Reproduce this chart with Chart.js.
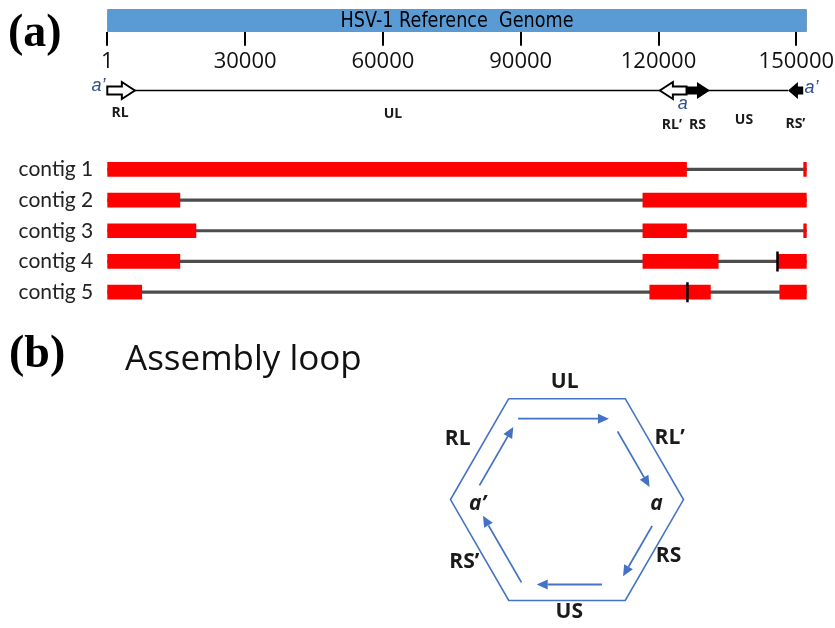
<!DOCTYPE html>
<html>
<head>
<meta charset="utf-8">
<title>HSV-1 contig assembly</title>
<script src="https://cdn.jsdelivr.net/npm/chart.js@4.4.1/dist/chart.umd.min.js"></script>
<style>
  body { margin: 0; background: #fff; }
  #wrap { position: relative; width: 835px; height: 628px; overflow: hidden; }
  canvas { position: absolute; left: 0; }
</style>
</head>
<body>
<div id="wrap">
  <canvas id="refChart" width="835" height="140" style="top:0"></canvas>
  <canvas id="contigChart" width="835" height="180" style="top:140px"></canvas>
  <canvas id="loopChart" width="835" height="308" style="top:320px"></canvas>
</div>
<script>
// genome coordinates (bp)
const genomeLength = 152261;
const axisTicks = [1, 30000, 60000, 90000, 120000, 150000];

// genome map: repeat regions drawn as arrows
const featureStart = [1, 120300, 126100, 148200];
const featureEnd = [6000, 126100, 131200, 151500];
const featureDir = [1, -1, 1, -1];
const featureFilled = [false, false, true, true];

const regionNames = ['RL', 'UL', 'RL’', 'RS', 'US', 'RS’'];
const regionCenters = [2800, 62200, 122900, 128500, 138600, 149800];
const junctionNames = ['a’', 'a', 'a’'];
const junctionCenters = [-1900, 125300, 153300];

// contigs: red segments that map to the reference
const contigNames = ['contig 1', 'contig 2', 'contig 3', 'contig 4', 'contig 5'];
const contigSegments = [
  [[1, 126100], [151600, 152261]],
  [[1, 15800], [116600, 152261]],
  [[1, 19300], [116600, 126100], [151600, 152261]],
  [[1, 15800], [116600, 133000], [146000, 152261]],
  [[1, 7500], [118100, 131300], [146400, 152261]]
];
const contigBreaks = [null, null, null, 145900, 126300];

// assembly loop
const loopEdges = ['UL', 'RL’', 'RS', 'US', 'RS’', 'RL'];
const loopJunctions = ['a', 'a’'];

// layout bits (pixels)
const MAP_Y = 90.5;
const regionLabelY = [113, 114, 125, 125, 120, 124];
const junctionLabelY = [86, 104, 88];
const HEX_R = 116.5;
const edgeInset = [20, 23, 14, 16, 20, 18];
const arrowFrom = [0.08, 0.21, 0.33, 0.2, 0.08, 0.23];
const arrowTo = [0.86, 0.76, 0.83, 0.76, 0.74, 0.81];
const labelOffset = [17, 19, 15, 12, 19, 24];
const loopBlue = '#4472C4';

function blockArrow(ctx, xa, xb, y, dir, filled) {
  const tip = dir > 0 ? Math.max(xa, xb) : Math.min(xa, xb);
  const tail = dir > 0 ? Math.min(xa, xb) : Math.max(xa, xb);
  const head = Math.min(13, Math.abs(tip - tail) * 0.65) * dir;
  ctx.beginPath();
  ctx.moveTo(tail, y - 4);
  ctx.lineTo(tip - head, y - 4);
  ctx.lineTo(tip - head, y - 8.5);
  ctx.lineTo(tip, y);
  ctx.lineTo(tip - head, y + 8.5);
  ctx.lineTo(tip - head, y + 4);
  ctx.lineTo(tail, y + 4);
  ctx.closePath();
  if (filled) {
    ctx.fillStyle = '#000';
    ctx.fill();
  } else {
    ctx.fillStyle = '#fff';
    ctx.fill();
    ctx.lineWidth = 2;
    ctx.strokeStyle = '#000';
    ctx.stroke();
  }
}

const genomeMap = {
  id: 'genomeMap',
  afterDraw(chart) {
    const ctx = chart.ctx;
    const area = chart.chartArea;
    const px = v => chart.scales.x.getPixelForValue(v);
    ctx.save();

    // title squeezed into the reference bar
    ctx.fillStyle = '#000';
    ctx.font = '21px "DejaVu Sans"';
    ctx.textAlign = 'center';
    ctx.textBaseline = 'middle';
    ctx.fillText('HSV-1 Reference  Genome', (area.left + area.right) / 2, (area.top + area.bottom) / 2 + 1, 233);

    ctx.font = 'bold 46px "Liberation Serif"';
    ctx.textAlign = 'left';
    ctx.textBaseline = 'alphabetic';
    ctx.fillText('(a)', 8, 46);

    // backbone line between the terminal repeats
    ctx.strokeStyle = '#000';
    ctx.lineWidth = 1.5;
    ctx.beginPath();
    ctx.moveTo(px(featureEnd[0]), MAP_Y);
    ctx.lineTo(px(featureStart[3]), MAP_Y);
    ctx.stroke();
    for (let i = 0; i < featureStart.length; i++) {
      blockArrow(ctx, px(featureStart[i]), px(featureEnd[i]), MAP_Y, featureDir[i], featureFilled[i]);
    }

    ctx.textAlign = 'center';
    ctx.textBaseline = 'middle';
    ctx.fillStyle = '#1a1a1a';
    ctx.font = 'bold 14px "Open Sans"';
    regionNames.forEach((name, i) => ctx.fillText(name, px(regionCenters[i]), regionLabelY[i]));

    ctx.fillStyle = '#2E4E8C';
    ctx.font = 'italic 18px "Liberation Sans"';
    junctionNames.forEach((name, i) => ctx.fillText(name, px(junctionCenters[i]), junctionLabelY[i]));
    ctx.restore();
  }
};

new Chart(document.getElementById('refChart'), {
  type: 'bar',
  data: {
    labels: ['reference'],
    datasets: [{
      label: 'HSV-1 Reference Genome',
      data: [[1, genomeLength]],
      backgroundColor: '#5B9BD5',
      borderColor: '#41719C',
      borderWidth: 1,
      borderSkipped: false,
      barPercentage: 1,
      categoryPercentage: 1
    }]
  },
  options: {
    indexAxis: 'y',
    responsive: false,
    animation: false,
    layout: { padding: { left: 107.3, right: 28.3, top: 9.3, bottom: 63.3 } },
    plugins: { legend: { display: false }, tooltip: { enabled: false } },
    scales: {
      y: { display: false },
      x: {
        type: 'linear',
        min: 1,
        max: genomeLength,
        position: 'bottom',
        border: { display: false },
        grid: { drawOnChartArea: false, drawTicks: true, tickLength: 14, color: '#000', lineWidth: 2 },
        ticks: {
          autoSkip: false,
          maxRotation: 0,
          padding: 3,
          color: '#111',
          font: { family: 'Open Sans', size: 22 },
          callback: v => String(v)
        },
        afterBuildTicks: s => { s.ticks = axisTicks.map(v => ({ value: v })); },
        afterFit: s => {
          s.height = 45;
          s.paddingLeft = 0;
          s.paddingRight = 0;
        }
      }
    }
  },
  plugins: [genomeMap]
});

// contig panel
const segmentCount = Math.max(...contigSegments.map(s => s.length));
const segmentSets = [];
for (let k = 0; k < segmentCount; k++) {
  segmentSets.push({
    label: 'segment ' + (k + 1),
    data: contigSegments.map(s => s[k] || null),
    backgroundColor: '#FF0000',
    barThickness: 14,
    grouped: false,
    order: 1
  });
}

new Chart(document.getElementById('contigChart'), {
  type: 'bar',
  data: {
    labels: contigNames,
    datasets: [
      {
        type: 'scatter',
        label: 'break',
        data: contigBreaks.map((b, i) => b === null ? null : { x: b, y: contigNames[i] }).filter(Boolean),
        pointStyle: 'line',
        rotation: 90,
        radius: 10,
        borderColor: '#000',
        borderWidth: 2.5,
        order: 0
      },
      ...segmentSets,
      {
        label: 'genome',
        data: contigNames.map(() => [1, genomeLength]),
        backgroundColor: '#4d4d4d',
        barThickness: 2.5,
        grouped: false,
        order: 2
      }
    ]
  },
  options: {
    indexAxis: 'y',
    responsive: false,
    animation: false,
    layout: { padding: { left: 0, right: 28.3, top: 14, bottom: 0 } },
    plugins: { legend: { display: false }, tooltip: { enabled: false } },
    scales: {
      x: { type: 'linear', min: 1, max: genomeLength, display: false },
      y: {
        grid: { display: false, drawTicks: false },
        border: { display: false },
        ticks: { padding: 14, color: '#222', font: { family: 'Lato', size: 21 } },
        afterFit: s => {
          s.width = 107.3;
          s.paddingTop = 0;
          s.paddingBottom = 0;
        }
      }
    }
  }
});

// assembly loop panel
const loopVertices = [];
for (let k = 0; k <= loopEdges.length; k++) {
  const ang = (120 - 60 * k) * Math.PI / 180;
  loopVertices.push({ x: HEX_R * Math.cos(ang), y: HEX_R * Math.sin(ang) });
}

function arrowLine(ctx, x1, y1, x2, y2) {
  const a = Math.atan2(y2 - y1, x2 - x1);
  const hl = 11, hw = 5;
  const bx = x2 - hl * Math.cos(a), by = y2 - hl * Math.sin(a);
  ctx.beginPath();
  ctx.moveTo(x1, y1);
  ctx.lineTo(bx, by);
  ctx.stroke();
  ctx.beginPath();
  ctx.moveTo(x2, y2);
  ctx.lineTo(bx + hw * Math.sin(a), by - hw * Math.cos(a));
  ctx.lineTo(bx - hw * Math.sin(a), by + hw * Math.cos(a));
  ctx.closePath();
  ctx.fill();
}

const loopDecor = {
  id: 'loopDecor',
  afterDraw(chart) {
    const ctx = chart.ctx;
    const xs = chart.scales.x, ys = chart.scales.y;
    const P = loopVertices.map(v => ({ x: xs.getPixelForValue(v.x), y: ys.getPixelForValue(v.y) }));
    const C = { x: xs.getPixelForValue(0), y: ys.getPixelForValue(0) };
    ctx.save();

    ctx.fillStyle = '#000';
    ctx.font = 'bold 46px "Liberation Serif"';
    ctx.textAlign = 'left';
    ctx.textBaseline = 'alphabetic';
    ctx.fillText('(b)', 9, 47);
    ctx.fillStyle = '#111';
    ctx.font = '35px "Open Sans"';
    ctx.fillText('Assembly loop', 125, 49.5);

    ctx.lineWidth = 1.8;
    ctx.textAlign = 'center';
    ctx.textBaseline = 'middle';
    for (let i = 0; i < loopEdges.length; i++) {
      const A = P[i], B = P[i + 1];
      const len = Math.hypot(B.x - A.x, B.y - A.y);
      const u = { x: (B.x - A.x) / len, y: (B.y - A.y) / len };
      let n = { x: -u.y, y: u.x };
      if (n.x * (C.x - A.x) + n.y * (C.y - A.y) < 0) n = { x: u.y, y: -u.x };
      const s = arrowFrom[i] * len, e = arrowTo[i] * len, d = edgeInset[i];
      ctx.strokeStyle = loopBlue;
      ctx.fillStyle = loopBlue;
      arrowLine(ctx, A.x + u.x * s + n.x * d, A.y + u.y * s + n.y * d, A.x + u.x * e + n.x * d, A.y + u.y * e + n.y * d);

      const m = 0.48 * len, o = labelOffset[i];
      ctx.fillStyle = '#1a1a1a';
      ctx.font = 'bold 21px "Open Sans"';
      ctx.fillText(loopEdges[i], A.x + u.x * m - n.x * o, A.y + u.y * m - n.y * o);
    }

    // junction labels at the right and left corners
    ctx.font = 'italic bold 21px "Open Sans"';
    [2, 5].forEach((vi, j) => {
      const V = P[vi];
      const dir = Math.sign(C.x - V.x);
      ctx.fillText(loopJunctions[j], V.x + dir * 27, V.y + 4);
    });
    ctx.restore();
  }
};

new Chart(document.getElementById('loopChart'), {
  type: 'scatter',
  data: {
    datasets: [{
      label: 'assembly loop',
      data: loopVertices,
      showLine: true,
      pointRadius: 0,
      borderColor: loopBlue,
      borderWidth: 1.6,
      fill: false
    }]
  },
  options: {
    responsive: false,
    animation: false,
    layout: { padding: { left: 420, right: 115, top: 40, bottom: 0 } },
    plugins: { legend: { display: false }, tooltip: { enabled: false } },
    scales: {
      x: { type: 'linear', min: -147, max: 153, display: false },
      y: { type: 'linear', min: -128.4, max: 139.6, display: false }
    }
  },
  plugins: [loopDecor]
});
</script>
</body>
</html>
